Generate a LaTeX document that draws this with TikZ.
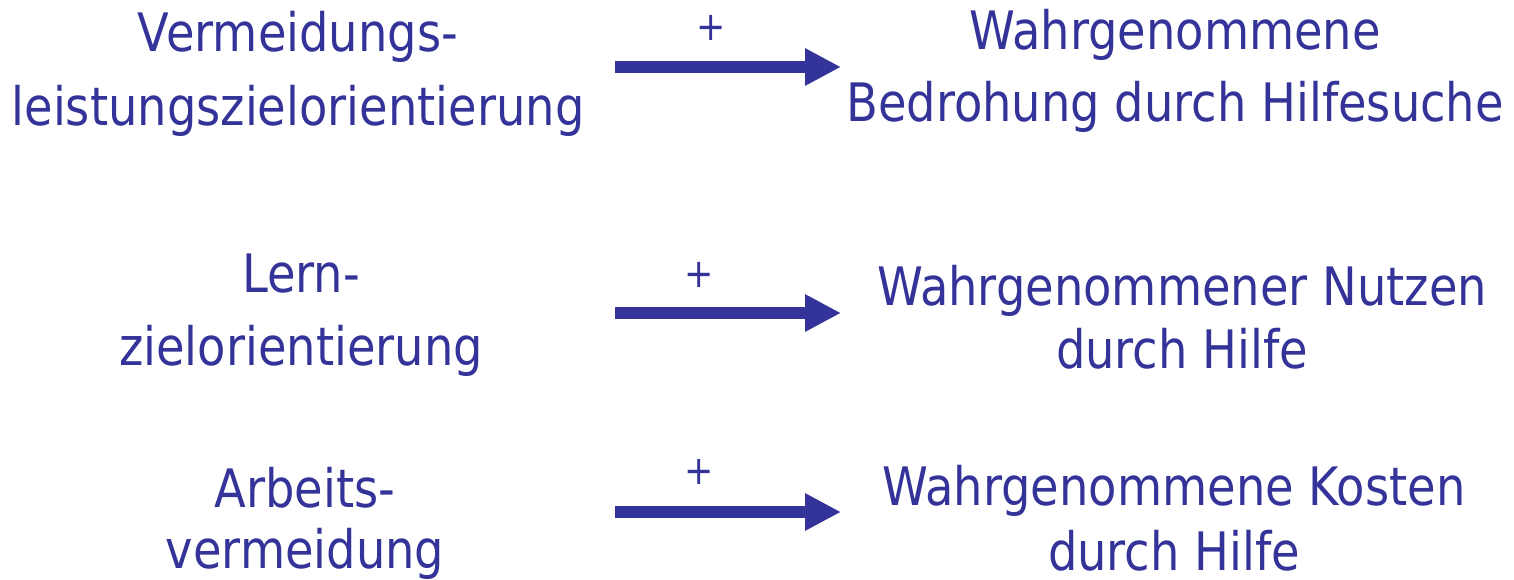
\documentclass[tikz,border=0pt]{standalone}
\usepackage{fontspec}
\setmainfont{DejaVu Sans}[FakeStretch=0.875]
\usetikzlibrary{arrows.meta}
\definecolor{ink}{RGB}{51,51,153}
\tikzset{
  lbl/.style={text=ink, align=center, anchor=base, inner sep=0pt},
  plus/.style={text=ink, inner sep=0pt, anchor=center, font=\fontsize{40}{40}\selectfont},
  bigarrow/.style={draw=ink, line width=12pt, -{Triangle[length=36pt,width=35pt]}}
}
\newcommand{\lsp}[1]{\fontsize{53}{#1}\selectfont}
\begin{document}
\begin{tikzpicture}[x=1pt,y=-1pt]
\useasboundingbox (0,0) rectangle (1514,580);
% left labels (anchored at the baseline of the last line)
\node[lbl, font=\lsp{74}] (l1) at (298,126) {Vermeidungs-\\leistungszielorientierung};
\node[lbl, font=\lsp{73}] (l2) at (301,365) {Lern-\\zielorientierung};
\node[lbl, font=\lsp{61}] (l3) at (305,568) {Arbeits-\\vermeidung};
% right labels
\node[lbl, font=\lsp{72}] (r1) at (1175,122) {Wahrgenommene\\Bedrohung durch Hilfesuche};
\node[lbl, font=\lsp{63}] (r2) at (1182,368) {Wahrgenommener Nutzen\\durch Hilfe};
\node[lbl, font=\lsp{65}] (r3) at (1174,570) {Wahrgenommene Kosten\\durch Hilfe};
% arrow ends
\coordinate (a1s) at (615,67);  \coordinate (a1e) at (841,67);
\coordinate (a2s) at (615,313); \coordinate (a2e) at (841,313);
\coordinate (a3s) at (615,512); \coordinate (a3e) at (841,512);
\draw[bigarrow] (a1s) -- (a1e);
\draw[bigarrow] (a2s) -- (a2e);
\draw[bigarrow] (a3s) -- (a3e);
% signs
\node[plus] (p1) at (711,28) {+};
\node[plus] (p2) at (699,275) {+};
\node[plus] (p3) at (699,472) {+};
\end{tikzpicture}
\end{document}
